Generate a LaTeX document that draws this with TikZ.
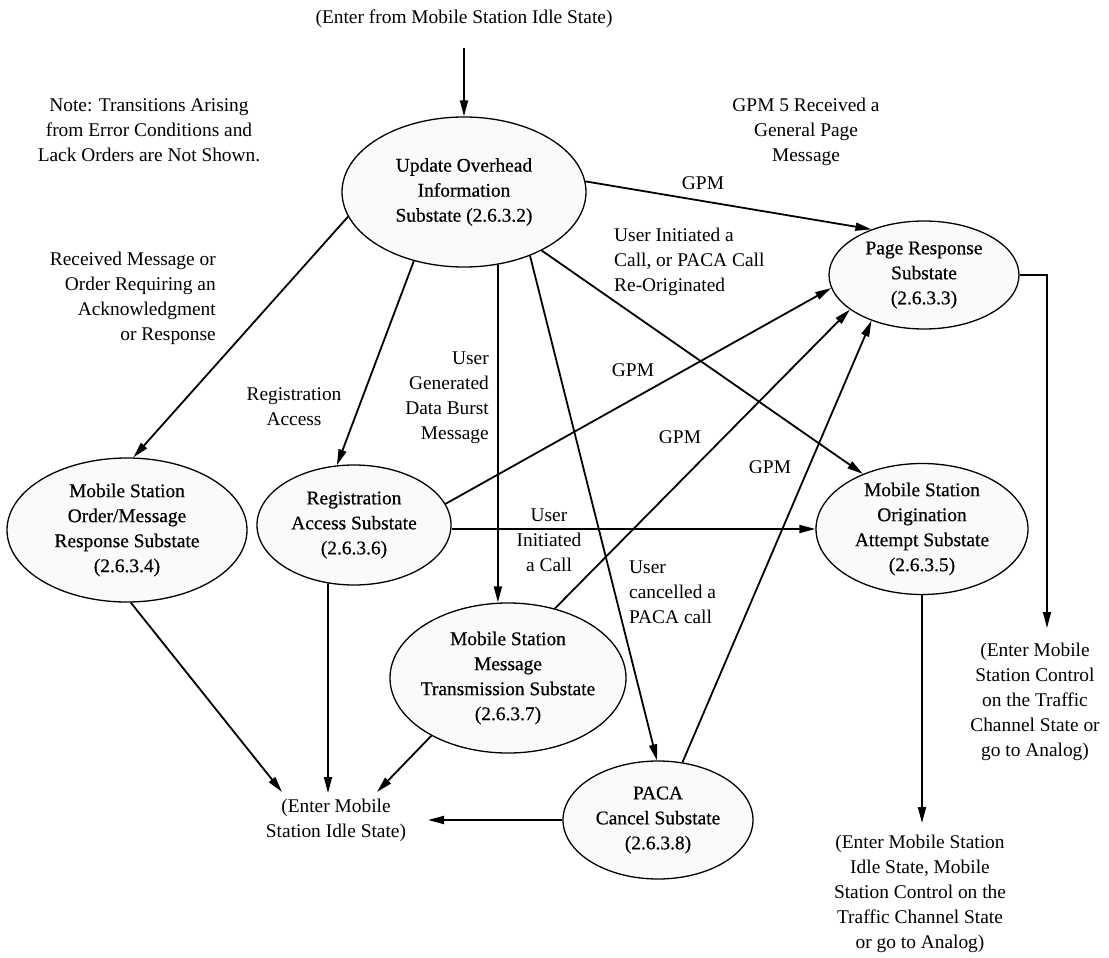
\documentclass[tikz,border=0pt]{standalone}
\usepackage{fontspec}
\setmainfont{Liberation Serif}
\newfontfamily\statefont[FakeBold=0.5]{Liberation Serif}
\usetikzlibrary{shapes.geometric,arrows.meta}
\begin{document}
\begin{tikzpicture}[x=1pt,y=-1pt,
  every node/.style={font=\fontsize{19.4}{25}\selectfont, inner sep=0pt},
  state/.style={ellipse, draw, line width=1.3pt, fill=black!2},
  stext/.style={align=center, font=\statefont\fontsize{19.4}{25}\selectfont},
  flow/.style={line width=1.8pt, -{Triangle[length=16pt,width=8pt]}},
]
\useasboundingbox (0,0) rectangle (1109,958);

% substates
\node[state, minimum width=244pt, minimum height=150pt,
  label={[stext]center:{Update Overhead\\Information\\Substate (2.6.3.2)}}] (upd) at (464,192) {};
\node[state, minimum width=190pt, minimum height=108pt,
  label={[stext]center:{Page Response\\Substate\\(2.6.3.3)}}] (page) at (924,275) {};
\node[state, minimum width=240pt, minimum height=144pt,
  label={[stext]center:{Mobile Station\\Order/Message\\Response Substate\\(2.6.3.4)}}] (order) at (127,530) {};
\node[state, minimum width=194pt, minimum height=120pt,
  label={[stext]center:{Registration\\Access Substate\\(2.6.3.6)}}] (reg) at (354,525) {};
\node[state, minimum width=236pt, minimum height=150pt,
  label={[stext]center:{Mobile Station\\Message\\Transmission Substate\\(2.6.3.7)}}] (msg) at (508,678) {};
\node[state, minimum width=190pt, minimum height=118pt,
  label={[stext]center:{PACA\\Cancel Substate\\(2.6.3.8)}}] (paca) at (658,820) {};
\node[state, minimum width=212pt, minimum height=131pt,
  label={[stext]center:{Mobile Station\\Origination\\Attempt Substate\\(2.6.3.5)}}] (orig) at (922,529) {};

% entry and exit texts
\node (top) at (464,19) {(Enter from Mobile Station Idle State)};
\node[align=center] (idle) at (336,820) {(Enter Mobile\\Station Idle State)};
\node[align=center] (tch) at (1035,702) {(Enter Mobile\\Station Control\\on the Traffic\\Channel State or\\go to Analog)};
\node[align=center] (fin) at (920,894) {(Enter Mobile Station\\Idle State, Mobile\\Station Control on the\\Traffic Channel State\\or go to Analog)};

% notes and transition labels
\node[align=center] (note) at (149,130) {Note: Transitions Arising\\from Error Conditions and\\Lack Orders are Not Shown.};
\node[align=center] (gpmnote) at (806,132) {GPM 5 Received a\\General Page\\Message};
\node[align=right, anchor=east] (lrecv) at (216,298) {Received Message or\\Order Requiring an\\Acknowledgment\\or Response};
\node[align=left, anchor=west] (luser) at (614,262) {User Initiated a\\Call, or PACA Call\\Re-Originated};
\node[align=center] (lreg) at (294,407) {Registration\\Access};
\node[align=right, anchor=east] (ldata) at (489,398) {User\\Generated\\Data Burst\\Message};
\node[align=center] (lcall) at (549,540) {User\\Initiated\\a Call};
\node[align=left, anchor=west] (lcancel) at (629,592) {User\\cancelled a\\PACA call};
\node (g1) at (703,183) {GPM};
\node (g2) at (633,370) {GPM};
\node (g3) at (680,437) {GPM};
\node (g4) at (770,467) {GPM};

% arrow ends at the exit texts
\coordinate (tchin) at (1047,628);
\coordinate (finin) at (922,823);
\coordinate (idA) at (282,792);
\coordinate (idB) at (328,793);
\coordinate (idC) at (377,792);
\coordinate (idD) at (428,820);

% transitions
\draw[flow, shorten <=20pt] (top.south) -- (upd.north);
\draw[flow] (upd.5) -- (page.139);
\draw[flow] (upd.192) -- (order.85);
\draw[flow] (upd.234) -- (reg.106);
\draw[flow] (upd.-65) -- (upd.-65 |- msg.north);
\draw[flow] (upd.-44) -- (paca.91);
\draw[flow] (upd.-37) -- (orig.137);
\draw[flow] (reg.13) -- (page.188);
\draw[flow] (msg.56) -- (page.205);
\draw[flow] (paca.67) -- (page.221);
\draw[flow] (orig.west -| reg.east) -- (orig.west);
\draw[flow] (page.east) -| (tchin);
\draw[flow] (orig.south) -- (finin);
\draw[flow] (order.-87) -- (idA);
\draw[flow] (reg.-114) -- (idB);
\draw[flow] (msg.217) -- (idC);
\draw[flow] (paca.west) -- (idD);
\end{tikzpicture}
\end{document}
